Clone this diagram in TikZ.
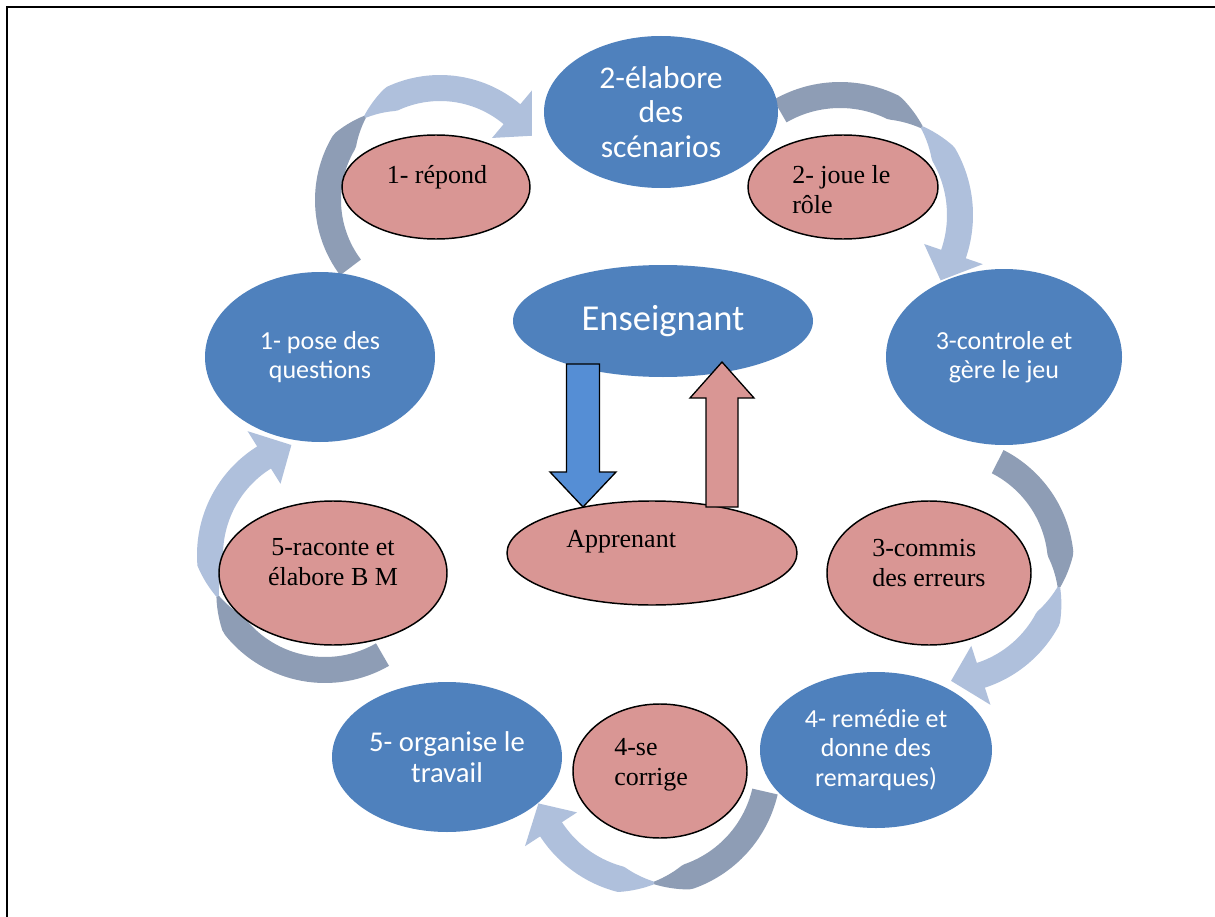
\documentclass[tikz,border=0pt]{standalone}
\usepackage{fontspec}
\setmainfont{Liberation Serif}
\newfontfamily\calfont{Carlito}
\usetikzlibrary{shapes.geometric}
\definecolor{bluefill}{HTML}{4F81BD}
\definecolor{pinkfill}{HTML}{D99694}
\definecolor{arrdark}{HTML}{8E9DB5}
\definecolor{arrlight}{HTML}{AFC0DC}
\definecolor{downblue}{HTML}{558ED5}
% #1 cx, #2 cy, #3 r, #4 tail angle, #5 neck angle, #6 head base angle, #7 tip angle (pixel coords)
\newcommand\cycarrow[7]{%
  \fill[arrdark]
    plot[domain=#4:#5, samples=40, variable=\ang]
      ({#1+(#3+13*min(1,abs(\ang-#5)/18+0.1))*cos(\ang)},{#2-(#3+13*min(1,abs(\ang-#5)/18+0.1))*sin(\ang)})
    -- plot[domain=#5:#4, samples=40, variable=\ang]
      ({#1+(#3-13*min(1,abs(\ang-#5)/18+0.1))*cos(\ang)},{#2-(#3-13*min(1,abs(\ang-#5)/18+0.1))*sin(\ang)})
    -- cycle;
  \fill[arrlight]
    plot[domain=#5:#6, samples=40, variable=\ang]
      ({#1+(#3+13*min(1,abs(\ang-#5)/18+0.1))*cos(\ang)},{#2-(#3+13*min(1,abs(\ang-#5)/18+0.1))*sin(\ang)})
    -- ({#1+(#3+31)*cos(#6)},{#2-(#3+31)*sin(#6)})
    -- ({#1+#3*cos(#7)},{#2-#3*sin(#7)})
    -- ({#1+(#3-31)*cos(#6)},{#2-(#3-31)*sin(#6)})
    -- plot[domain=#6:#5, samples=40, variable=\ang]
      ({#1+(#3-13*min(1,abs(\ang-#5)/18+0.1))*cos(\ang)},{#2-(#3-13*min(1,abs(\ang-#5)/18+0.1))*sin(\ang)})
    -- cycle;
}
\tikzset{
  blueell/.style 2 args={ellipse, fill=bluefill, draw=none, text=white, align=center, inner sep=0pt,
    minimum width={#1*1.5pt}, minimum height={#2*1.5pt},
    font=\calfont\fontsize{19.5}{22}\selectfont},
  pinkell/.style 2 args={ellipse, fill=pinkfill, draw=black, line width=1.1pt, inner sep=0pt,
    minimum width={#1*1.5pt}, minimum height={#2*1.5pt}},
  ptxt/.style={inner sep=0pt, text=black, font=\fontsize{19.5}{22.5}\selectfont},
  blockarrow/.style={draw=black, line width=1pt, line join=miter}
}
\begin{document}
\begin{tikzpicture}[x=0.75pt, y=-0.75pt]
\useasboundingbox (0,0) rectangle (1215,917);
\fill[white] (0,0) rectangle (1215,917);
% frame
\draw[line width=1.5pt] (6.5,917) -- (6.5,7.5) -- (1215,7.5);

% cycle arrows
\cycarrow{440}{200}{112}{217}{132}{50}{35}
\cycarrow{840}{215}{120}{120}{47}{-19}{-33}
\cycarrow{945}{565}{116}{63}{-11}{-72}{-87}
\cycarrow{650}{765}{118}{-13}{-88}{-147}{-161}
\cycarrow{325}{555}{115}{-60}{-159}{-238}{-253}

% blue (teacher) ellipses
\node[blueell={117}{76}, font=\calfont\fontsize{23.7}{26}\selectfont] (b2) at (661,112) {2-élabore\\des\\scénarios};
\node[blueell={115}{85}] (b1) at (320,357) {1- pose des\\questions};
\node[blueell={118}{88}] (b3) at (1004,357) {3-controle et\\gère le jeu};
\node[blueell={116}{78}] (b4) at (876,750) {4- remédie et\\donne des\\remarques)};
\node[blueell={115}{75}, font=\calfont\fontsize{21.5}{23.5}\selectfont] (b5) at (447,757) {5- organise le\\travail};
\node[blueell={150}{56}, font=\calfont\fontsize{27.4}{30}\selectfont] (ens) at (663,321) {Enseignant};

% pink (learner) ellipses
\node[pinkell={94}{52}] (p1) at (436,187) {};
\node[pinkell={95}{52}] (p2) at (843,187) {};
\node[pinkell={102}{72}] (p3) at (929,573) {};
\node[pinkell={87}{67}] (p4) at (660,771) {};
\node[pinkell={114}{72}] (p5) at (333,573) {};
\node[pinkell={145}{52}] (app) at (652,553) {};

\node[ptxt] (p1t) at (437,177) {1- répond};
\node[ptxt, anchor=west, align=left] (p2t) at (792,190) {2- joue le\\rôle};
\node[ptxt, anchor=west, align=left] (p3t) at (872,563) {3-commis\\des erreurs};
\node[ptxt, anchor=west, align=left] (p4t) at (614,765) {4-se\\corrige};
\node[ptxt, align=center] (p5t) at (333,562) {5-raconte et\\élabore B M};
\node[ptxt, anchor=west] (appt) at (566,542) {Apprenant};

% block arrows between Enseignant and Apprenant
\coordinate (dtop) at (583,364);
\coordinate (dtip) at (583,507);
\coordinate (utip) at (722,362);
\coordinate (ubot) at (722,507);
\draw[blockarrow, fill=downblue]
  ([xshift=-16.5*0.75pt]dtop) -- ([xshift=16.5*0.75pt]dtop)
  -- ([xshift=16.5*0.75pt, yshift=-108*0.75pt]dtop) -- ([xshift=33*0.75pt, yshift=-108*0.75pt]dtop)
  -- (dtip) -- ([xshift=-33*0.75pt, yshift=-108*0.75pt]dtop)
  -- ([xshift=-16.5*0.75pt, yshift=-108*0.75pt]dtop) -- cycle;
\draw[blockarrow, fill=pinkfill]
  ([xshift=-16*0.75pt]ubot) -- ([xshift=16*0.75pt]ubot)
  -- ([xshift=16*0.75pt, yshift=109*0.75pt]ubot) -- ([xshift=32*0.75pt, yshift=109*0.75pt]ubot)
  -- (utip) -- ([xshift=-32*0.75pt, yshift=109*0.75pt]ubot)
  -- ([xshift=-16*0.75pt, yshift=109*0.75pt]ubot) -- cycle;
\end{tikzpicture}
\end{document}
